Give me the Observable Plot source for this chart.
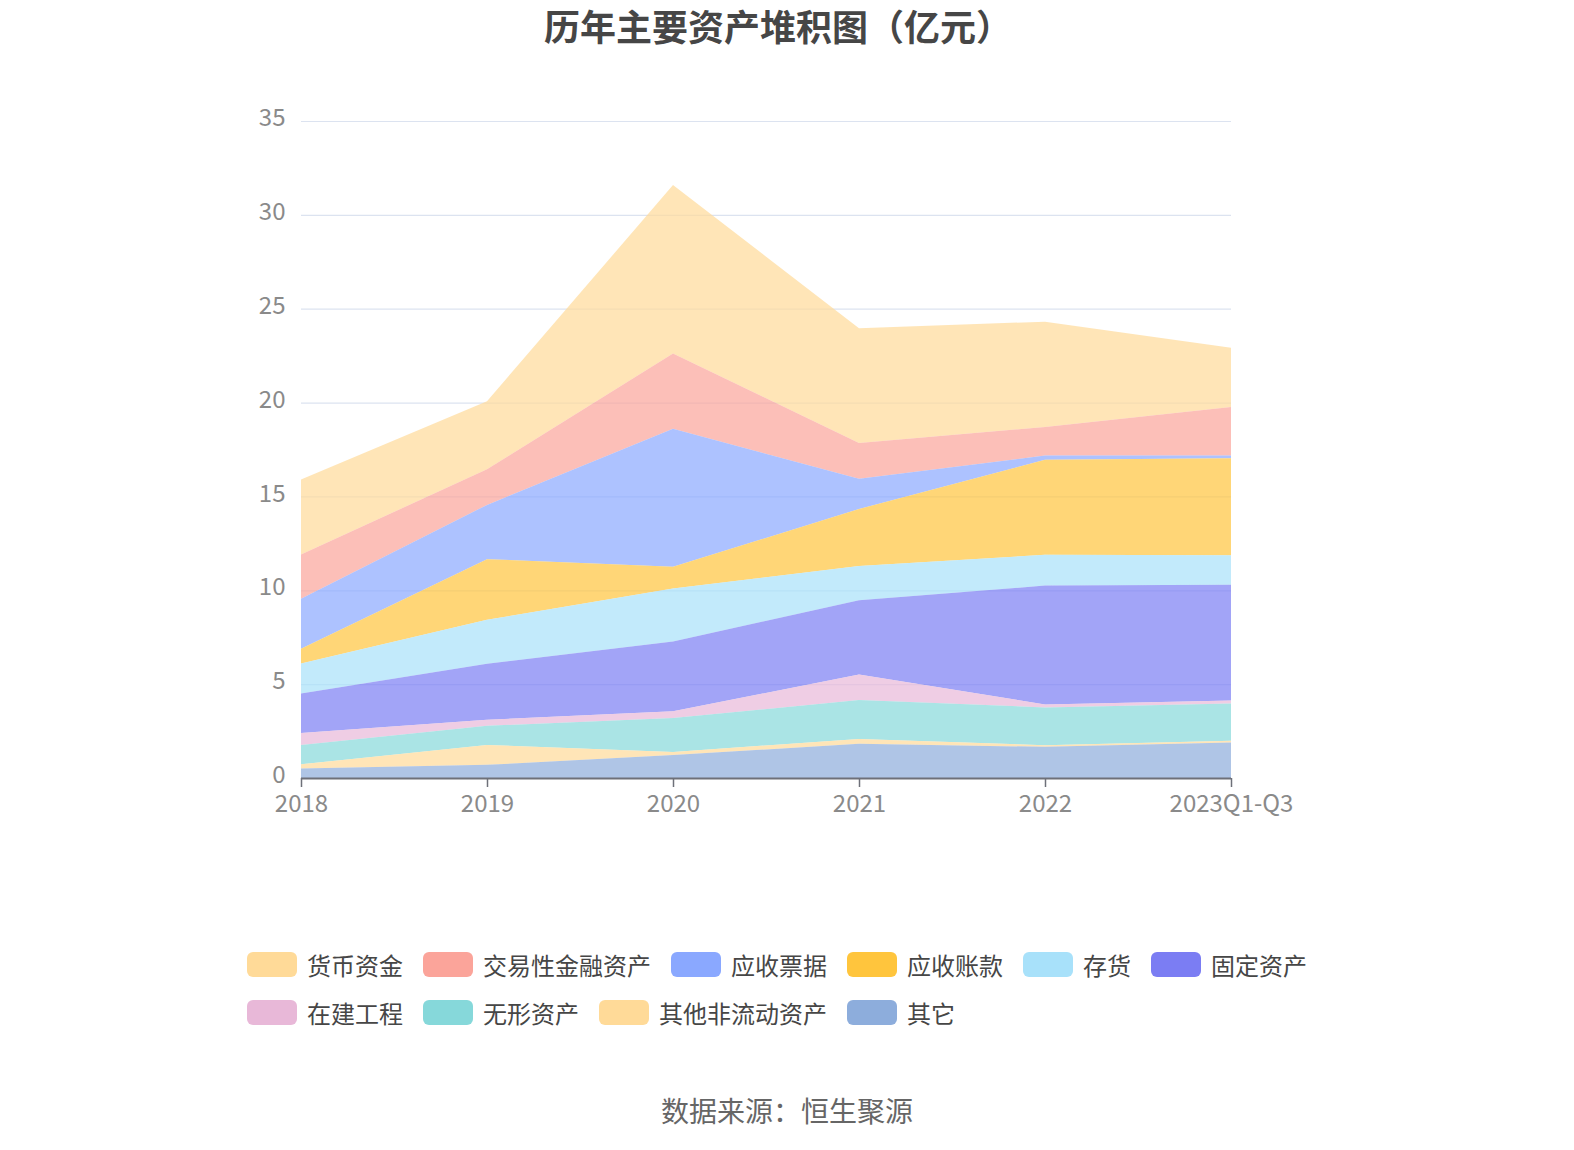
<!DOCTYPE html>
<html>
<head>
<meta charset="utf-8">
<script src="https://cdn.jsdelivr.net/npm/d3@7"></script>
<script src="https://cdn.jsdelivr.net/npm/@observablehq/plot@0.6"></script>
<style>
  html, body { margin: 0; padding: 0; background: #fff; }
  #wrap { position: relative; width: 1574px; height: 1150px; font-family: "Noto Sans CJK SC", "Noto Sans", sans-serif; }
  #title { position: absolute; top: 1px; left: 0; width: 1556px; text-align: center; font-size: 36px; font-weight: bold; color: #464646; line-height: 48px; }
  #chart { position: absolute; top: 60px; left: 0; }
  #legend { position: absolute; top: 950px; left: 247px; width: 1075px; display: flex; flex-wrap: wrap; column-gap: 20px; row-gap: 20px; }
  .item { display: flex; align-items: center; height: 28px; font-size: 24px; color: #464646; }
  .sw { width: 50px; height: 25px; border-radius: 6px; margin-right: 10px; }
  #source { position: absolute; top: 1090px; left: 0; width: 1574px; text-align: center; font-size: 28px; color: #666; line-height: 40px; }
</style>
</head>
<body>
<div id="wrap">
  <div id="title">历年主要资产堆积图（亿元）</div>
  <div id="chart"></div>
  <div id="legend"></div>
  <div id="source">数据来源：恒生聚源</div>
</div>
<script>
// Categories (x axis)
const years = ["2018", "2019", "2020", "2021", "2022", "2023Q1-Q3"];

// Series names in legend order (top of stack first)
const seriesNames = ["货币资金", "交易性金融资产", "应收票据", "应收账款", "存货", "固定资产", "在建工程", "无形资产", "其他非流动资产", "其它"];
const seriesColors = ["#FFDA98", "#FBA49A", "#8AA8FF", "#FFC53D", "#A8E1FA", "#7B7DF3", "#E8B8D8", "#86D8DA", "#FFDA98", "#8DADDC"];

// Values (亿元)
const cash           = [4.00, 3.62, 8.97, 6.12, 5.61, 3.15];
const tradingAssets  = [2.35, 1.90, 4.02, 1.90, 1.52, 2.59];
const notesRecv      = [2.67, 2.89, 7.35, 1.61, 0.23, 0.14];
const accountsRecv   = [0.78, 3.23, 1.15, 3.03, 5.06, 5.17];
const inventory      = [1.60, 2.35, 2.83, 1.83, 1.64, 1.57];
const fixedAssets    = [2.10, 2.98, 3.72, 3.96, 6.33, 6.17];
const construction   = [0.64, 0.32, 0.36, 1.35, 0.16, 0.16];
const intangible     = [1.03, 1.02, 1.80, 2.08, 2.01, 1.99];
const otherNonCurr   = [0.23, 1.06, 0.17, 0.26, 0.09, 0.09];
const others         = [0.50, 0.70, 1.22, 1.82, 1.66, 1.89];

const yTicks = [0, 5, 10, 15, 20, 25, 30, 35];

const seriesValues = [cash, tradingAssets, notesRecv, accountsRecv, inventory, fixedAssets, construction, intangible, otherNonCurr, others];
const table = [];
seriesNames.forEach((name, i) => {
  years.forEach((yr, j) => table.push({ year: yr, name, value: seriesValues[i][j] }));
});
const stackOrder = seriesNames.slice().reverse();

const font = '"Noto Sans CJK SC", "Noto Sans", sans-serif';

const chart = Plot.plot({
  width: 1574,
  height: 780,
  marginTop: 61,
  marginBottom: 62,
  marginLeft: 301,
  marginRight: 343,
  style: { fontFamily: font, background: "transparent", overflow: "visible" },
  x: { type: "point", domain: years, padding: 0, label: null },
  y: { domain: [0, 35], label: null },
  color: { domain: seriesNames, range: seriesColors },
  marks: [
    Plot.gridY(yTicks.filter(d => d > 0), { stroke: "#DCE3F0", strokeOpacity: 1, strokeWidth: 1.2 }),
    Plot.areaY(table, Plot.stackY({ order: stackOrder }, {
      x: "year", y: "value", z: "name", fill: "name", fillOpacity: 0.7, curve: "linear"
    })),
    Plot.ruleY([0], { stroke: "#6E7079", strokeWidth: 2 }),
    Plot.axisX({ tickSize: 9, tickPadding: 7, fontSize: 24, stroke: "#6E7079", strokeWidth: 1.5, fill: "#8A8A8A", color: "#8A8A8A", label: null }),
    Plot.axisY(yTicks, { tickSize: 0, tickPadding: 16, fontSize: 24, fill: "#8A8A8A", dy: -3, label: null })
  ]
});
document.getElementById("chart").appendChild(chart);

const legend = document.getElementById("legend");
seriesNames.forEach((name, i) => {
  const it = document.createElement("div");
  it.className = "item";
  const sw = document.createElement("div");
  sw.className = "sw";
  sw.style.background = seriesColors[i];
  const tx = document.createElement("span");
  tx.textContent = name;
  it.appendChild(sw);
  it.appendChild(tx);
  legend.appendChild(it);
});
</script>
</body>
</html>
